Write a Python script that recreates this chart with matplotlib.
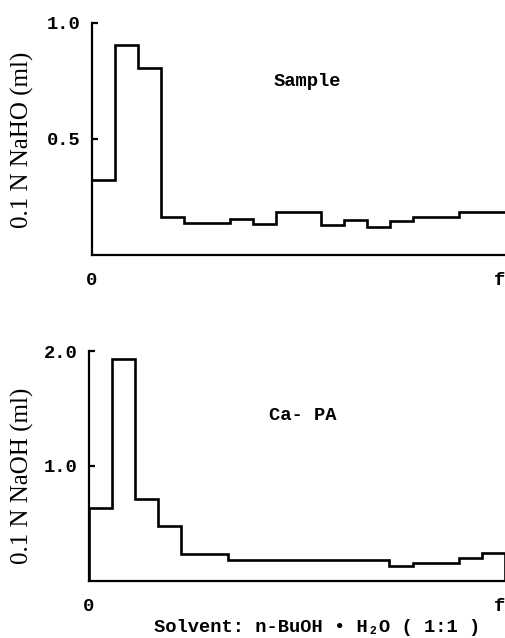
import matplotlib
matplotlib.use("Agg")
import matplotlib.pyplot as plt
import numpy as np

# Top panel: Sample (fraction widths in fraction units, values in ml 0.1 N NaOH)
sample_widths = [1, 1, 1, 1, 2, 1, 1, 2, 1, 1, 1, 1, 2, 2]
sample_values = [0.323, 0.905, 0.806, 0.164, 0.138, 0.155, 0.134, 0.185,
                 0.129, 0.151, 0.121, 0.147, 0.164, 0.185]

# Bottom panel: Ca-PA
capa_widths = [1, 1, 1, 1, 2, 7, 1, 2, 1, 1]
capa_values = [0.635, 1.93, 0.713, 0.478, 0.235, 0.183, 0.130, 0.157, 0.200, 0.243]

top_yticks = [0.5, 1.0]
top_yticklabels = ["0.5", "1.0"]
bot_yticks = [1.0, 2.0]
bot_yticklabels = ["1.0", "2.0"]
x_ticklabels = ["0", "f"]

mono = "Liberation Mono"
serif = "Liberation Serif"
FS = 13.5

W, H = 506, 638
fig = plt.figure(figsize=(W / 100, H / 100), dpi=100)

def make_axes(left, bottom, right, top):
    return fig.add_axes([left / W, 1 - bottom / H, (right - left) / W, (bottom - top) / H])

ax1 = make_axes(92, 255, 505, 23)
ax2 = make_axes(89, 581, 505, 351)

def style(ax, widths, values, ylim, yticks, yticklabels, baseline):
    edges = np.concatenate([[0], np.cumsum(widths)])
    ax.stairs(values, edges, baseline=baseline, fill=False, color="black", linewidth=1.9)
    ax.set_xlim(0, edges[-1])
    ax.set_ylim(*ylim)
    for s in ["top", "right"]:
        ax.spines[s].set_visible(False)
    for s in ["left", "bottom"]:
        ax.spines[s].set_linewidth(1.6)
    ax.set_yticks(yticks)
    ax.set_yticklabels(yticklabels, fontfamily=mono, fontweight="bold", fontsize=FS)
    ax.tick_params(axis="y", direction="in", length=4, width=1.6, pad=8)
    ax.set_xticks([0, edges[-1]])
    labels = ax.set_xticklabels(x_ticklabels, fontfamily=mono, fontweight="bold", fontsize=FS)
    labels[1].set_horizontalalignment("right")
    ax.tick_params(axis="x", length=0, pad=12)
    ax.set_facecolor("white")

style(ax1, sample_widths, sample_values, (0, 1.0), top_yticks, top_yticklabels, None)
style(ax2, capa_widths, capa_values, (0, 2.0), bot_yticks, bot_yticklabels, 0)

fig.text(307 / W, 1 - 81 / H, "Sample", fontfamily=mono, fontweight="bold",
         fontsize=FS, ha="center", va="center")
fig.text(303 / W, 1 - 415 / H, "Ca- PA", fontfamily=mono, fontweight="bold",
         fontsize=FS, ha="center", va="center")

fig.text(22 / W, 1 - 140 / H, "0.1 N NaHO (ml)", fontfamily=serif, fontsize=18,
         rotation=90, ha="center", va="center")
fig.text(22 / W, 1 - 476 / H, "0.1 N NaOH (ml)", fontfamily=serif, fontsize=18,
         rotation=90, ha="center", va="center")

fig.text(317 / W, 1 - 627 / H, "Solvent: n-BuOH \u2022 H\u2082O ( 1:1 )",
         fontfamily=[mono, "DejaVu Sans Mono"], fontweight="bold", fontsize=FS,
         ha="center", va="center")

fig.savefig("out.png", dpi=100, facecolor="white")
